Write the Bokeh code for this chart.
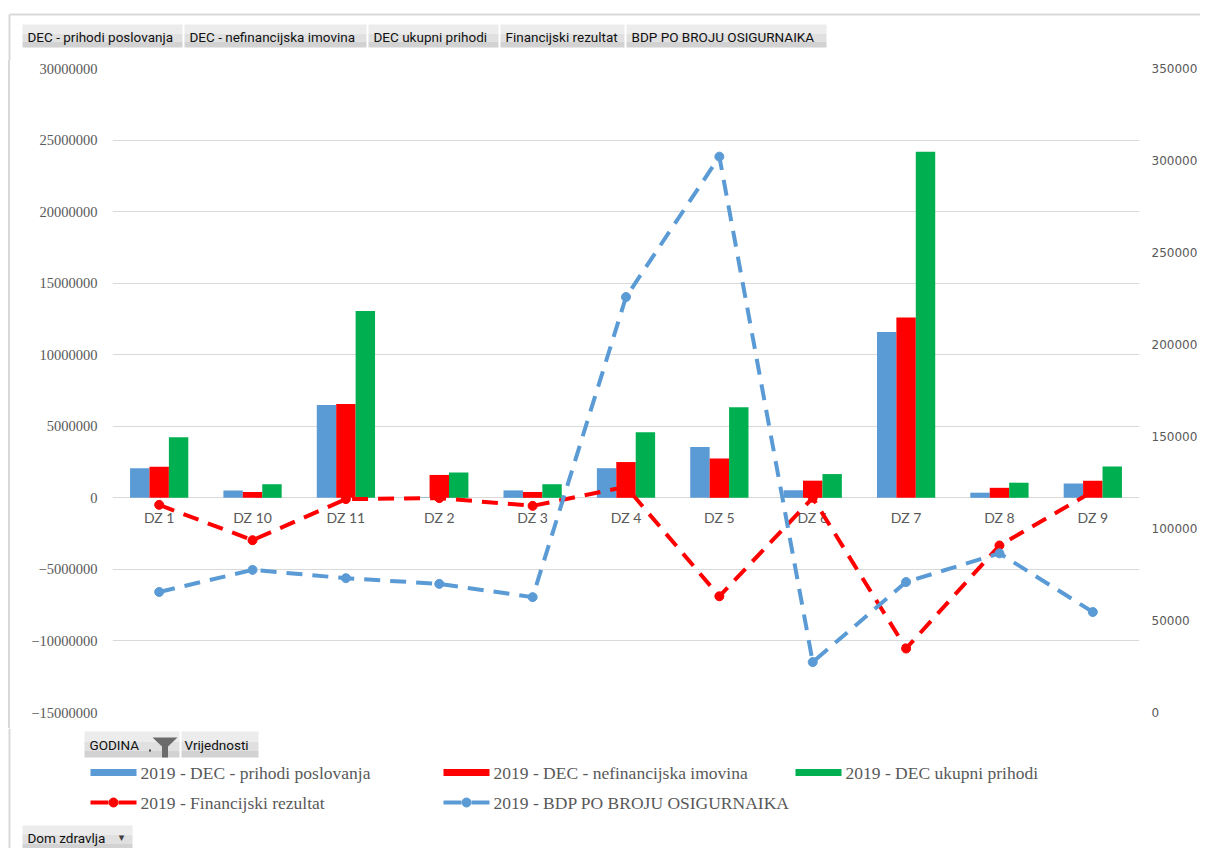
from bokeh.plotting import figure
from bokeh.models import (ColumnDataSource, Range1d, FactorRange, LinearAxis,
                          SingleIntervalTicker, BasicTickFormatter)
from bokeh.transform import dodge
from bokeh.layouts import column
from bokeh.core.properties import value
from bokeh.embed import file_html
from bokeh.resources import INLINE

# ---------------- data ----------------
categories = ["DZ 1", "DZ 10", "DZ 11", "DZ 2", "DZ 3", "DZ 4", "DZ 5", "DZ 6", "DZ 7", "DZ 8", "DZ 9"]
prihodi_poslovanja = [2070000, 520000, 6490000, 30000, 520000, 2070000, 3560000, 530000, 11580000, 360000, 1010000]
nefinancijska_imovina = [2170000, 410000, 6560000, 1600000, 410000, 2500000, 2750000, 1200000, 12600000, 700000, 1200000]
ukupni_prihodi = [4240000, 950000, 13060000, 1770000, 950000, 4580000, 6330000, 1660000, 24180000, 1060000, 2190000]
financijski_rezultat = [-490000, -2960000, -90000, -20000, -560000, 770000, -6880000, 0, -10530000, -3330000, 450000]
bdp_po_broju_osiguranika = [65500, 77500, 73000, 69900, 62700, 225800, 302100, 27400, 70900, 86500, 54600]

series_labels = ["2019 - DEC - prihodi poslovanja", "2019 - DEC - nefinancijska imovina",
                 "2019 - DEC ukupni prihodi", "2019 - Financijski rezultat",
                 "2019 - BDP PO BROJU OSIGURNAIKA"]
field_buttons = ["DEC - prihodi poslovanja", "DEC - nefinancijska imovina", "DEC ukupni prihodi",
                 "Financijski rezultat", "BDP PO BROJU OSIGURNAIKA"]

# ---------------- styles / layout ----------------
BLUE = "#5B9BD5"
RED = "#FF0000"
GREEN = "#00B050"
GREY_TXT = "#595959"
GRID = "#d9d9d9"
W = 1200
BTN_FONT = value("Roboto")
BTN_SIZE = "13.5px"


def draw_button(fig, left, right, top, bottom):
    h = bottom - top
    fig.quad(left=[left], right=[right], top=[top], bottom=[top + h * 0.4],
             fill_color="#ececec", line_color=None)
    fig.quad(left=[left], right=[right], top=[top + h * 0.4], bottom=[top + h * 0.75],
             fill_color="#e0e0e0", line_color=None)
    fig.quad(left=[left], right=[right], top=[top + h * 0.75], bottom=[bottom],
             fill_color="#d2d2d2", line_color=None)


def blank(y0, y1):
    f = figure(width=W, height=y1 - y0, x_range=Range1d(0, W), y_range=Range1d(y1, y0),
               toolbar_location=None, output_backend="svg", min_border=0,
               x_axis_location=None, y_axis_location=None, outline_line_color=None,
               background_fill_color=None, border_fill_color=None)
    f.frame_align = False
    f.xgrid.visible = False
    f.ygrid.visible = False
    return f


# ---------------- top strip (field buttons) ----------------
top = blank(0, 60)
top.segment(x0=[9, 9], y0=[14, 14], x1=[W, 9], y1=[14, 60], line_color=GRID, line_width=2)
btn_left = [22, 184, 368, 500, 626]
btn_right = [182, 366, 498, 624, 826]
for l, r in zip(btn_left, btn_right):
    draw_button(top, l, r, 24, 47)
top.text(x=[l + 5 for l in btn_left], y=36, text=field_buttons, text_baseline="middle",
         text_align="left", text_font=BTN_FONT, text_font_size=BTN_SIZE, text_color="#111111")

# ---------------- main chart ----------------
src = ColumnDataSource(dict(cat=categories, p=prihodi_poslovanja, n=nefinancijska_imovina,
                            u=ukupni_prihodi, f=financijski_rezultat, b=bdp_po_broju_osiguranika))

main = figure(width=W, height=668, x_range=FactorRange(factors=categories, range_padding=0),
              y_range=Range1d(-15000000, 30000000),
              extra_y_ranges={"right": Range1d(0, 350000)},
              x_axis_location=None, toolbar_location=None, output_backend="svg",
              min_border_top=8, min_border_bottom=16, min_border_left=112, min_border_right=58,
              outline_line_color=None, border_fill_color=None)
main.frame_align = False
main.styles = {"background": "linear-gradient(90deg, rgba(0,0,0,0) 8px, #d9d9d9 8px, "
                             "#d9d9d9 10px, rgba(0,0,0,0) 10px)"}

bw = 0.208
main.vbar(x=dodge("cat", -bw, range=main.x_range), top="p", width=bw, source=src,
          fill_color=BLUE, line_color=None)
main.vbar(x=dodge("cat", 0, range=main.x_range), top="n", width=bw, source=src,
          fill_color=RED, line_color=None)
main.vbar(x=dodge("cat", bw, range=main.x_range), top="u", width=bw, source=src,
          fill_color=GREEN, line_color=None)

main.text(x="cat", y=0, text="cat", source=src, y_offset=20, text_align="center",
          text_baseline="middle", text_font=value("Lato"), text_font_size="14px",
          text_color=GREY_TXT)

main.line(x="cat", y="f", source=src, line_color=RED, line_width=4, line_dash="16 10")
main.scatter(x="cat", y="f", source=src, size=9, fill_color=RED, line_color=RED)
main.line(x="cat", y="b", source=src, y_range_name="right", line_color=BLUE, line_width=4,
          line_dash="16 10")
main.scatter(x="cat", y="b", source=src, y_range_name="right", size=9, fill_color=BLUE,
             line_color=BLUE)

lax = main.yaxis[0]
lax.ticker = SingleIntervalTicker(interval=5000000, num_minor_ticks=0)
lax.formatter = BasicTickFormatter(use_scientific=False)
lax.axis_line_color = None
lax.major_tick_line_color = None
lax.minor_tick_line_color = None
lax.major_tick_out = 0
lax.major_tick_in = 0
lax.minor_tick_out = 0
lax.major_label_standoff = 15
lax.major_label_text_font = "Liberation Serif"
lax.major_label_text_font_size = "14.5px"
lax.major_label_text_color = GREY_TXT

rax = LinearAxis(y_range_name="right",
                 ticker=SingleIntervalTicker(interval=50000, num_minor_ticks=0),
                 formatter=BasicTickFormatter(use_scientific=False))
rax.axis_line_color = None
rax.major_tick_line_color = None
rax.minor_tick_line_color = None
rax.major_tick_out = 0
rax.major_tick_in = 0
rax.minor_tick_out = 0
rax.major_label_standoff = 12
rax.major_label_text_font = "DejaVu Sans"
rax.major_label_text_font_size = "12px"
rax.major_label_text_color = GREY_TXT
main.add_layout(rax, "right")

main.ygrid.grid_line_color = GRID
main.ygrid.grid_line_width = 1
main.xgrid.visible = False

# ---------------- bottom strip (pivot buttons + legend) ----------------
bot = blank(728, 848)
bot.segment(x0=[9], y0=[728], x1=[9], y1=[848], line_color=GRID, line_width=2)
draw_button(bot, 84, 179, 731, 757)
draw_button(bot, 181, 258, 731, 757)
draw_button(bot, 22, 132, 825, 849)
bot.patch(x=[152, 177, 167.5, 167.5, 161.5, 161.5], y=[737, 737, 746, 757, 757, 746],
          fill_color="#6b6b6b", line_color=None)
bot.quad(left=[148.5], right=[150.5], top=[749], bottom=[751], fill_color="#404040", line_color=None)
bot.text(x=[89, 184, 27], y=[744, 744, 837], text=["GODINA", "Vrijednosti", "Dom zdravlja"],
         text_baseline="middle", text_align="left", text_font=BTN_FONT,
         text_font_size=BTN_SIZE, text_color="#111111")
bot.text(x=[121], y=[837], text=["\u25be"], text_baseline="middle", text_align="center",
         text_font=value("DejaVu Sans"), text_font_size="11px", text_color="#404040")

# legend
leg_x = [90, 443, 795, 90, 443]
leg_y = [772, 772, 772, 802, 802]
leg_colors = [BLUE, RED, GREEN, RED, BLUE]
gw = 46
for i in range(3):
    bot.quad(left=[leg_x[i]], right=[leg_x[i] + gw], top=[leg_y[i] - 3.5], bottom=[leg_y[i] + 3.5],
             fill_color=leg_colors[i], line_color=None)
for i in range(3, 5):
    bot.line(x=[leg_x[i], leg_x[i] + gw], y=[leg_y[i], leg_y[i]], line_color=leg_colors[i],
             line_width=4, line_dash="18 10")
    bot.scatter(x=[leg_x[i] + gw / 2], y=[leg_y[i]], size=9, fill_color=leg_colors[i],
                line_color=leg_colors[i])
bot.text(x=[x + gw + 4 for x in leg_x], y=leg_y, text=series_labels, text_baseline="middle",
         text_align="left", text_font=value("Liberation Serif"), text_font_size="17.5px",
         text_color=GREY_TXT)

layout = column(top, main, bot)
open("out.html", "w").write(file_html(layout, INLINE))
